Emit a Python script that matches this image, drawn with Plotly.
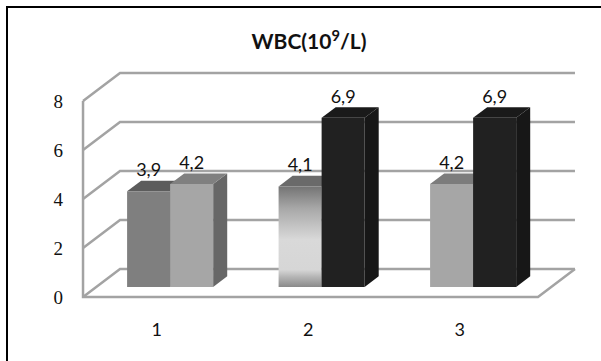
import plotly.graph_objects as go

# ---- data ----
categories = ["1", "2", "3"]
series_a = [3.9, 4.1, 4.2]
series_b = [4.2, 6.9, 6.9]
y_ticks = [0, 2, 4, 6, 8]
title_text = "<b>WBC(10<sup>9</sup>/L)</b>"

# per-bar face colours: (front, top, side)
colors_a = [("#7f7f7f", "#5c5c5c", "#555555"),
            (None, "#6a6a6a", "#555555"),
            ("#a6a6a6", "#7c7c7c", "#6a6a6a")]
colors_b = [("#a6a6a6", "#808080", "#676767"),
            ("#212121", "#1a1a1a", "#171717"),
            ("#212121", "#1a1a1a", "#171717")]
gradient_scale = [[0.0, "#8a8a8a"], [0.1, "#b5b5b5"], [0.17, "#d6d6d6"],
                  [0.47, "#d9d9d9"], [0.78, "#a8a8a8"], [1.0, "#747474"]]

# ---- oblique projection (category, value, depth) -> axis units ----
DX, DY = 0.2442, 1.1429        # shift of the back wall (depth = 1)
D_FRONT, D_BACK = 0.36, 0.74   # depth of bar front / back faces
BAR_W = 0.284
C_LEFT, C_RIGHT = 0.513, 3.516
X_RANGE = [-0.035, 3.932]
Y_RANGE = [-2.612, 12.122]
GRID = "#a3a3a3"


def proj(c, v, d):
    return c + d * DX, v + d * DY


def poly(pts):
    xs, ys = zip(*[proj(*p) for p in pts])
    return list(xs) + [xs[0]], list(ys) + [ys[0]]


fig = go.Figure()

# walls and floor
gx, gy = [], []
for t in y_ticks:
    for p in (proj(C_LEFT, t, 0), proj(C_LEFT, t, 1), proj(C_RIGHT, t, 1)):
        gx.append(p[0]); gy.append(p[1])
    gx.append(None); gy.append(None)
for p in (proj(C_LEFT, y_ticks[-1], 0), proj(C_LEFT, 0, 0), proj(C_RIGHT, 0, 0), proj(C_RIGHT, 0, 1)):
    gx.append(p[0]); gy.append(p[1])
fig.add_trace(go.Scatter(x=gx, y=gy, mode="lines", line=dict(color=GRID, width=2.5),
                         hoverinfo="skip", showlegend=False))


def add_bar(x0, x1, h, cols, gradient=False):
    front, top, side = cols
    sx, sy = poly([(x1, 0, D_FRONT), (x1, 0, D_BACK), (x1, h, D_BACK), (x1, h, D_FRONT)])
    fig.add_trace(go.Scatter(x=sx, y=sy, mode="lines", fill="toself", fillcolor=side,
                             line=dict(width=0), hoverinfo="skip", showlegend=False))
    tx, ty = poly([(x0, h, D_FRONT), (x1, h, D_FRONT), (x1, h, D_BACK), (x0, h, D_BACK)])
    fig.add_trace(go.Scatter(x=tx, y=ty, mode="lines", fill="toself", fillcolor=top,
                             line=dict(width=0), hoverinfo="skip", showlegend=False))
    fx, fy = poly([(x0, 0, D_FRONT), (x1, 0, D_FRONT), (x1, h, D_FRONT), (x0, h, D_FRONT)])
    kw = dict(fillcolor=front)
    if gradient:
        kw = dict(fillgradient=dict(type="vertical", colorscale=gradient_scale,
                                    start=min(fy), stop=max(fy)))
    fig.add_trace(go.Scatter(x=fx, y=fy, mode="lines", fill="toself",
                             line=dict(width=0), hoverinfo="skip", showlegend=False, **kw))


lab_x, lab_y, lab_t = [], [], []
for i, cat in enumerate(categories):
    c = i + 1
    for x0, x1, h, cols in ((c - BAR_W, c, series_a[i], colors_a[i]),
                            (c, c + BAR_W, series_b[i], colors_b[i])):
        add_bar(x0, x1, h, cols, gradient=cols[0] is None)
        px, _ = proj((x0 + x1) / 2, h, D_FRONT)
        _, py = proj((x0 + x1) / 2, h, D_BACK)
        lab_x.append(px); lab_y.append(py)
        lab_t.append(f"{h:.1f}".replace(".", ","))

fig.add_trace(go.Scatter(x=lab_x, y=lab_y, mode="text", text=lab_t, textposition="top center",
                         textfont=dict(family="Lato", size=18, color="#111111"),
                         hoverinfo="skip", showlegend=False, cliponaxis=False))

fig.update_layout(
    width=601, height=361,
    margin=dict(l=0, r=0, t=0, b=0),
    paper_bgcolor="white", plot_bgcolor="white",
    title=dict(text=title_text, x=309 / 601, xanchor="center", y=1 - 42 / 361, yanchor="middle",
               font=dict(family="Lato", size=21, color="#111111")),
    xaxis=dict(range=X_RANGE, showgrid=False, zeroline=False, showline=False,
               tickvals=[1, 2, 3], ticktext=categories, ticks="",
               anchor="free", position=0.122,
               tickfont=dict(family="Lato", size=18, color="#111111")),
    yaxis=dict(range=Y_RANGE, showgrid=False, zeroline=False, showline=False,
               tickvals=y_ticks, ticktext=[str(t) for t in y_ticks], ticks="",
               anchor="free", position=0.105,
               tickfont=dict(family="Liberation Serif", size=19, color="#111111")),
    shapes=[dict(type="rect", xref="paper", yref="paper", x0=7 / 601, x1=1.05,
                 y0=-0.05, y1=1 - 7 / 361, line=dict(color="black", width=2))],
)

fig.write_html("out.html")
